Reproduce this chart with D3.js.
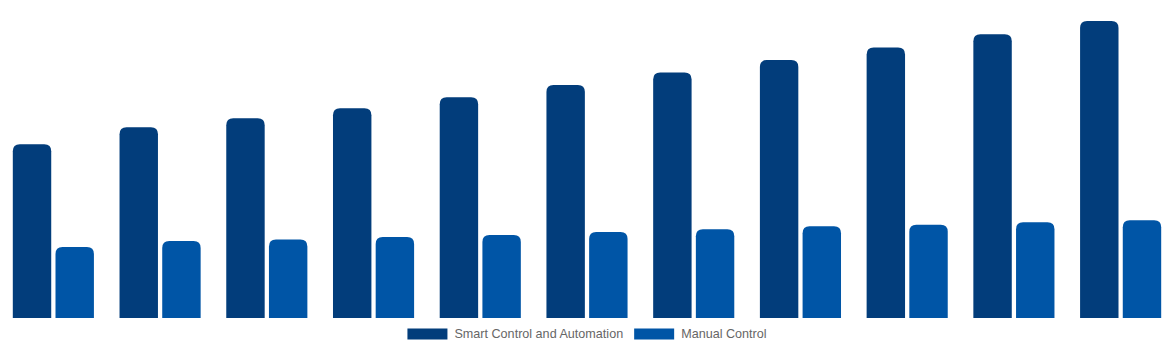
<!DOCTYPE html>
<html>
<head>
<meta charset="utf-8">
<script src="https://cdn.jsdelivr.net/npm/d3@7/dist/d3.min.js"></script>
<style>
  html, body { margin: 0; padding: 0; background: #ffffff; }
  svg { display: block; }
</style>
</head>
<body>
<svg id="chart" width="1174" height="350"></svg>
<script>
// Yearly categories and the two series compared
const categories = ["2020", "2021", "2022", "2023", "2024", "2025", "2026", "2027", "2028", "2029", "2030"];
const seriesNames = ["Smart Control and Automation", "Manual Control"];
const smartValues = [57.9, 63.6, 66.6, 69.9, 73.6, 77.7, 81.8, 86.0, 90.2, 94.6, 99.0];
const manualValues = [23.7, 25.7, 26.2, 27.0, 27.7, 28.7, 29.6, 30.6, 31.1, 31.9, 32.6];
const seriesColors = ["#023d7b", "#0055a6"];

const width = 1174;
const plot = { left: 0, right: 1174, top: 18, bottom: 318 };
const svg = d3.select("#chart");

const x0 = d3.scaleBand()
  .domain(categories)
  .range([plot.left, plot.right])
  .paddingInner(0.2)
  .paddingOuter(0.1);

const x1 = d3.scaleBand()
  .domain(seriesNames)
  .range([0, x0.bandwidth()])
  .paddingInner(0.1)
  .paddingOuter(0.05);

const y = d3.scaleLinear()
  .domain([0, 100])
  .range([plot.bottom, plot.top]);

// Bar path with rounded top corners only
function topRoundedBar(x, yTop, w, h, r) {
  r = Math.min(r, w / 2, h);
  return `M${x},${yTop + h}` +
    `V${yTop + r}` +
    `Q${x},${yTop} ${x + r},${yTop}` +
    `H${x + w - r}` +
    `Q${x + w},${yTop} ${x + w},${yTop + r}` +
    `V${yTop + h}Z`;
}

const rows = categories.map((c, i) => ({
  category: c,
  values: [
    { name: seriesNames[0], value: smartValues[i], color: seriesColors[0] },
    { name: seriesNames[1], value: manualValues[i], color: seriesColors[1] }
  ]
}));

const groups = svg.append("g")
  .selectAll("g")
  .data(rows)
  .join("g")
  .attr("transform", d => `translate(${x0(d.category)},0)`);

groups.selectAll("path")
  .data(d => d.values)
  .join("path")
  .attr("fill", d => d.color)
  .attr("d", d => {
    const yTop = y(d.value);
    return topRoundedBar(x1(d.name), yTop, x1.bandwidth(), y(0) - yTop, 7);
  });

// Legend centred below the bars
const legend = svg.append("g").attr("font-family", "'Liberation Sans', Arial, Helvetica, sans-serif")
  .attr("font-size", 12.6);
const items = legend.selectAll("g")
  .data(seriesNames)
  .join("g");
items.append("rect")
  .attr("width", 40)
  .attr("height", 11)
  .attr("y", 328.5)
  .attr("fill", (d, i) => seriesColors[i]);
items.append("text")
  .attr("x", 47)
  .attr("y", 334)
  .attr("dy", "0.35em")
  .attr("fill", "#666666")
  .text(d => d);

let offsets = [];
let total = 0;
items.each(function () {
  const w = this.getBBox().width;
  offsets.push(total);
  total += w + 11;
});
total -= 11;
const startX = (width - total) / 2;
items.attr("transform", (d, i) => `translate(${startX + offsets[i]},0)`);
</script>
</body>
</html>
